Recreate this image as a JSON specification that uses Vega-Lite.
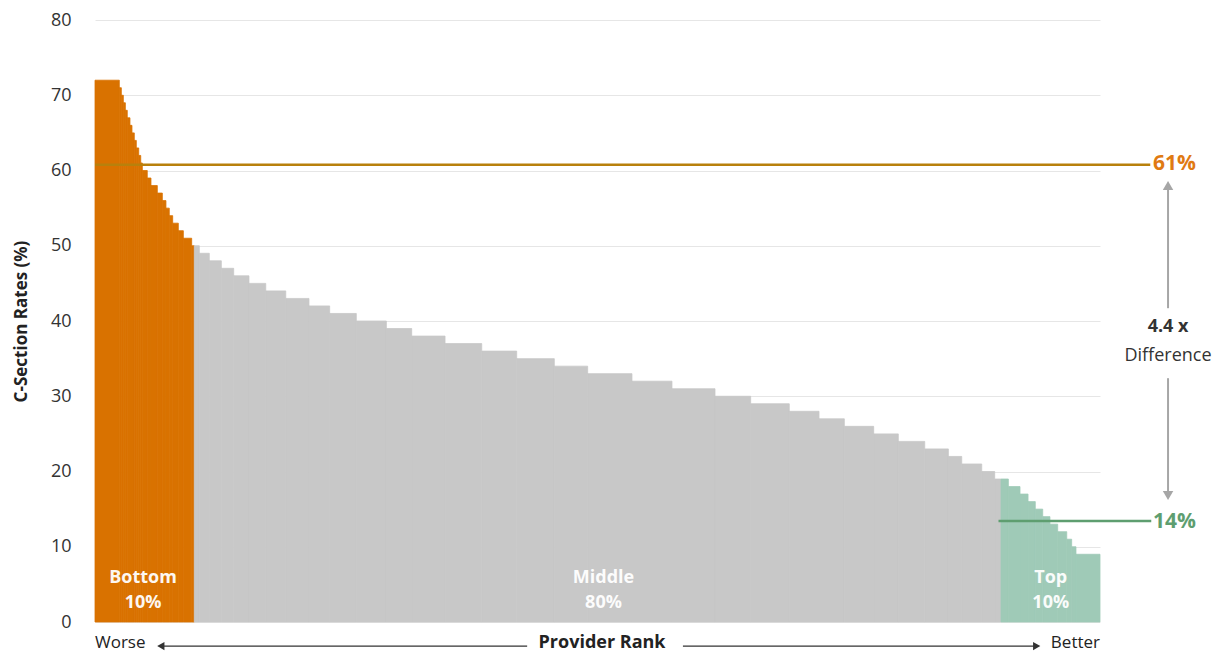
{
  "$schema": "https://vega.github.io/schema/vega-lite/v6.json",
  "width": 1005,
  "height": 602,
  "autosize": "none",
  "padding": {"left": 95, "top": 20, "right": 120, "bottom": 31},
  "config": {
    "view": {"stroke": null},
    "font": "Open Sans",
    "text": {"font": "Open Sans"}
  },
  "layer": [
    {
      "data": {
        "values": [
          {"group": "Bottom", "rate": 72, "x0": 0, "x1": 2.42},
          {"group": "Bottom", "rate": 71, "x0": 2.42, "x1": 2.62},
          {"group": "Bottom", "rate": 70, "x0": 2.62, "x1": 2.82},
          {"group": "Bottom", "rate": 69, "x0": 2.82, "x1": 3.02},
          {"group": "Bottom", "rate": 68, "x0": 3.02, "x1": 3.21},
          {"group": "Bottom", "rate": 67, "x0": 3.21, "x1": 3.48},
          {"group": "Bottom", "rate": 66, "x0": 3.48, "x1": 3.68},
          {"group": "Bottom", "rate": 65, "x0": 3.68, "x1": 3.91},
          {"group": "Bottom", "rate": 64, "x0": 3.91, "x1": 4.11},
          {"group": "Bottom", "rate": 63, "x0": 4.11, "x1": 4.35},
          {"group": "Bottom", "rate": 62, "x0": 4.35, "x1": 4.55},
          {"group": "Bottom", "rate": 61, "x0": 4.55, "x1": 4.71},
          {"group": "Bottom", "rate": 60, "x0": 4.71, "x1": 5.2},
          {"group": "Bottom", "rate": 59, "x0": 5.2, "x1": 5.57},
          {"group": "Bottom", "rate": 58, "x0": 5.57, "x1": 6.2},
          {"group": "Bottom", "rate": 57, "x0": 6.2, "x1": 6.7},
          {"group": "Bottom", "rate": 56, "x0": 6.7, "x1": 7.06},
          {"group": "Bottom", "rate": 55, "x0": 7.06, "x1": 7.39},
          {"group": "Bottom", "rate": 54, "x0": 7.39, "x1": 7.73},
          {"group": "Bottom", "rate": 53, "x0": 7.73, "x1": 8.29},
          {"group": "Bottom", "rate": 52, "x0": 8.29, "x1": 8.79},
          {"group": "Bottom", "rate": 51, "x0": 8.79, "x1": 9.62},
          {"group": "Bottom", "rate": 50, "x0": 9.62, "x1": 9.88},
          {"group": "Middle", "rate": 50, "x0": 9.88, "x1": 10.38},
          {"group": "Middle", "rate": 49, "x0": 10.38, "x1": 11.37},
          {"group": "Middle", "rate": 48, "x0": 11.37, "x1": 12.57},
          {"group": "Middle", "rate": 47, "x0": 12.57, "x1": 13.8},
          {"group": "Middle", "rate": 46, "x0": 13.8, "x1": 15.32},
          {"group": "Middle", "rate": 45, "x0": 15.32, "x1": 16.99},
          {"group": "Middle", "rate": 44, "x0": 16.99, "x1": 18.98},
          {"group": "Middle", "rate": 43, "x0": 18.98, "x1": 21.29},
          {"group": "Middle", "rate": 42, "x0": 21.29, "x1": 23.35},
          {"group": "Middle", "rate": 41, "x0": 23.35, "x1": 26.0},
          {"group": "Middle", "rate": 40, "x0": 26.0, "x1": 28.99},
          {"group": "Middle", "rate": 39, "x0": 28.99, "x1": 31.51},
          {"group": "Middle", "rate": 38, "x0": 31.51, "x1": 34.83},
          {"group": "Middle", "rate": 37, "x0": 34.83, "x1": 38.48},
          {"group": "Middle", "rate": 36, "x0": 38.48, "x1": 41.96},
          {"group": "Middle", "rate": 35, "x0": 41.96, "x1": 45.7},
          {"group": "Middle", "rate": 34, "x0": 45.7, "x1": 49.02},
          {"group": "Middle", "rate": 33, "x0": 49.02, "x1": 53.43},
          {"group": "Middle", "rate": 32, "x0": 53.43, "x1": 57.41},
          {"group": "Middle", "rate": 31, "x0": 57.41, "x1": 61.69},
          {"group": "Middle", "rate": 30, "x0": 61.69, "x1": 65.24},
          {"group": "Middle", "rate": 29, "x0": 65.24, "x1": 69.08},
          {"group": "Middle", "rate": 28, "x0": 69.08, "x1": 72.04},
          {"group": "Middle", "rate": 27, "x0": 72.04, "x1": 74.56},
          {"group": "Middle", "rate": 26, "x0": 74.56, "x1": 77.48},
          {"group": "Middle", "rate": 25, "x0": 77.48, "x1": 79.93},
          {"group": "Middle", "rate": 24, "x0": 79.93, "x1": 82.56},
          {"group": "Middle", "rate": 23, "x0": 82.56, "x1": 84.91},
          {"group": "Middle", "rate": 22, "x0": 84.91, "x1": 86.24},
          {"group": "Middle", "rate": 21, "x0": 86.24, "x1": 88.23},
          {"group": "Middle", "rate": 20, "x0": 88.23, "x1": 89.52},
          {"group": "Middle", "rate": 19, "x0": 89.52, "x1": 90.15},
          {"group": "Top", "rate": 19, "x0": 90.15, "x1": 90.88},
          {"group": "Top", "rate": 18, "x0": 90.88, "x1": 92.04},
          {"group": "Top", "rate": 17, "x0": 92.04, "x1": 92.84},
          {"group": "Top", "rate": 16, "x0": 92.84, "x1": 93.56},
          {"group": "Top", "rate": 15, "x0": 93.56, "x1": 94.3},
          {"group": "Top", "rate": 14, "x0": 94.3, "x1": 95.02},
          {"group": "Top", "rate": 13, "x0": 95.02, "x1": 95.79},
          {"group": "Top", "rate": 12, "x0": 95.79, "x1": 96.69},
          {"group": "Top", "rate": 11, "x0": 96.69, "x1": 97.18},
          {"group": "Top", "rate": 10, "x0": 97.18, "x1": 97.61},
          {"group": "Top", "rate": 9, "x0": 97.61, "x1": 100}
        ]
      },
      "mark": {"type": "rect", "clip": false, "strokeWidth": 0.8},
      "encoding": {
        "x": {"field": "x0", "type": "quantitative", "scale": {"domain": [0, 100], "nice": false, "zero": false}, "axis": null},
        "x2": {"field": "x1"},
        "y": {
          "field": "rate",
          "type": "quantitative",
          "scale": {"domain": [0, 80], "nice": false},
          "title": "C-Section Rates (%)",
          "axis": {
            "values": [0, 10, 20, 30, 40, 50, 60, 70, 80],
            "domain": false,
            "ticks": false,
            "grid": true,
            "gridColor": "#e6e6e6",
            "gridWidth": 1,
            "labelFont": "Open Sans",
            "labelFontSize": 18,
            "labelColor": "#333333",
            "labelPadding": 24,
            "titleFont": "Open Sans",
            "titleFontSize": 17,
            "titleFontWeight": "bold",
            "titleColor": "#222222",
            "titlePadding": 20
          }
        },
        "y2": {"datum": 0},
        "color": {
          "field": "group",
          "type": "nominal",
          "scale": {"domain": ["Bottom", "Middle", "Top"], "range": ["#D97200", "#C8C8C8", "#9FCAB7"]},
          "legend": null
        },
        "stroke": {
          "field": "group",
          "type": "nominal",
          "scale": {"domain": ["Bottom", "Middle", "Top"], "range": ["#D97200", "#C8C8C8", "#9FCAB7"]},
          "legend": null
        }
      }
    },
    {
      "data": {"values": [{"label": "61%", "a": 0, "b": 105.0, "v": 60.75}]},
      "mark": {"type": "rule", "color": "#B8800C", "strokeWidth": 2.5, "clip": false},
      "encoding": {
        "x": {"field": "a", "type": "quantitative"},
        "x2": {"field": "b"},
        "y": {"field": "v", "type": "quantitative"}
      }
    },
    {
      "data": {"values": [{"label": "14%", "a": 89.9, "b": 105.1, "v": 13.42}]},
      "mark": {"type": "rule", "color": "#5E9E70", "strokeWidth": 2.5, "clip": false},
      "encoding": {
        "x": {"field": "a", "type": "quantitative"},
        "x2": {"field": "b"},
        "y": {"field": "v", "type": "quantitative"}
      }
    },
    {
      "data": {
        "values": [
          {"part": "upper", "x": 106.77, "ya": 57.6, "yb": 41.7},
          {"part": "lower", "x": 106.77, "ya": 32.4, "yb": 17.2}
        ]
      },
      "mark": {"type": "rule", "color": "#A6A6A6", "strokeWidth": 2, "clip": false},
      "encoding": {
        "x": {"field": "x", "type": "quantitative"},
        "y": {"field": "ya", "type": "quantitative"},
        "y2": {"field": "yb"}
      }
    },
    {
      "data": {"values": [{"x": 106.77, "y": 58.0}]},
      "mark": {"type": "point", "shape": "triangle-up", "filled": true, "color": "#A6A6A6", "size": 110, "opacity": 1, "clip": false},
      "encoding": {
        "x": {"field": "x", "type": "quantitative"},
        "y": {"field": "y", "type": "quantitative"}
      }
    },
    {
      "data": {"values": [{"x": 106.77, "y": 16.8}]},
      "mark": {"type": "point", "shape": "triangle-down", "filled": true, "color": "#A6A6A6", "size": 110, "opacity": 1, "clip": false},
      "encoding": {
        "x": {"field": "x", "type": "quantitative"},
        "y": {"field": "y", "type": "quantitative"}
      }
    },
    {
      "data": {"values": [{"text": "61%", "x": 107.4, "y": 60.9}]},
      "mark": {"type": "text", "color": "#E07A12", "fontSize": 21, "fontWeight": "bold", "align": "center", "baseline": "middle", "clip": false},
      "encoding": {
        "x": {"field": "x", "type": "quantitative"},
        "y": {"field": "y", "type": "quantitative"},
        "text": {"field": "text"}
      }
    },
    {
      "data": {"values": [{"text": "14%", "x": 107.4, "y": 13.3}]},
      "mark": {"type": "text", "color": "#5E9E70", "fontSize": 21, "fontWeight": "bold", "align": "center", "baseline": "middle", "clip": false},
      "encoding": {
        "x": {"field": "x", "type": "quantitative"},
        "y": {"field": "y", "type": "quantitative"},
        "text": {"field": "text"}
      }
    },
    {
      "data": {"values": [{"text": "4.4 x", "x": 106.77, "y": 39.2}]},
      "mark": {"type": "text", "color": "#333333", "fontSize": 18, "fontWeight": "bold", "align": "center", "baseline": "middle", "clip": false},
      "encoding": {
        "x": {"field": "x", "type": "quantitative"},
        "y": {"field": "y", "type": "quantitative"},
        "text": {"field": "text"}
      }
    },
    {
      "data": {"values": [{"text": "Difference", "x": 106.77, "y": 35.35}]},
      "mark": {"type": "text", "color": "#333333", "fontSize": 18, "align": "center", "baseline": "middle", "clip": false},
      "encoding": {
        "x": {"field": "x", "type": "quantitative"},
        "y": {"field": "y", "type": "quantitative"},
        "text": {"field": "text"}
      }
    },
    {
      "data": {
        "values": [
          {"text": "Bottom", "x": 4.78, "y": 5.8},
          {"text": "10%", "x": 4.78, "y": 2.5},
          {"text": "Middle", "x": 50.6, "y": 5.8},
          {"text": "80%", "x": 50.6, "y": 2.5},
          {"text": "Top", "x": 95.1, "y": 5.8},
          {"text": "10%", "x": 95.1, "y": 2.5}
        ]
      },
      "mark": {"type": "text", "color": "#ffffff", "fontSize": 18, "fontWeight": "bold", "align": "center", "baseline": "middle", "opacity": 0.95},
      "encoding": {
        "x": {"field": "x", "type": "quantitative"},
        "y": {"field": "y", "type": "quantitative"},
        "text": {"field": "text"}
      }
    },
    {
      "data": {
        "values": [
          {"side": "left", "a": 6.6, "b": 43.0, "y": -3.2},
          {"side": "right", "a": 58.5, "b": 93.6, "y": -3.2}
        ]
      },
      "mark": {"type": "rule", "color": "#333333", "strokeWidth": 1.3, "clip": false},
      "encoding": {
        "x": {"field": "a", "type": "quantitative"},
        "x2": {"field": "b"},
        "y": {"field": "y", "type": "quantitative"}
      }
    },
    {
      "data": {"values": [{"x": 6.55, "y": -3.2}]},
      "mark": {"type": "point", "shape": "triangle-left", "filled": true, "color": "#333333", "size": 70, "opacity": 1, "clip": false},
      "encoding": {
        "x": {"field": "x", "type": "quantitative"},
        "y": {"field": "y", "type": "quantitative"}
      }
    },
    {
      "data": {"values": [{"x": 93.7, "y": -3.2}]},
      "mark": {"type": "point", "shape": "triangle-right", "filled": true, "color": "#333333", "size": 70, "opacity": 1, "clip": false},
      "encoding": {
        "x": {"field": "x", "type": "quantitative"},
        "y": {"field": "y", "type": "quantitative"}
      }
    },
    {
      "data": {"values": [{"text": "Worse", "x": 0, "y": -2.75}]},
      "mark": {"type": "text", "color": "#222222", "fontSize": 17, "align": "left", "baseline": "middle", "clip": false},
      "encoding": {
        "x": {"field": "x", "type": "quantitative"},
        "y": {"field": "y", "type": "quantitative"},
        "text": {"field": "text"}
      }
    },
    {
      "data": {"values": [{"text": "Better", "x": 100, "y": -2.75}]},
      "mark": {"type": "text", "color": "#222222", "fontSize": 17, "align": "right", "baseline": "middle", "clip": false},
      "encoding": {
        "x": {"field": "x", "type": "quantitative"},
        "y": {"field": "y", "type": "quantitative"},
        "text": {"field": "text"}
      }
    },
    {
      "data": {"values": [{"text": "Provider Rank", "x": 50.45, "y": -2.8}]},
      "mark": {"type": "text", "color": "#222222", "fontSize": 18, "fontWeight": "bold", "align": "center", "baseline": "middle", "clip": false},
      "encoding": {
        "x": {"field": "x", "type": "quantitative"},
        "y": {"field": "y", "type": "quantitative"},
        "text": {"field": "text"}
      }
    }
  ]
}
